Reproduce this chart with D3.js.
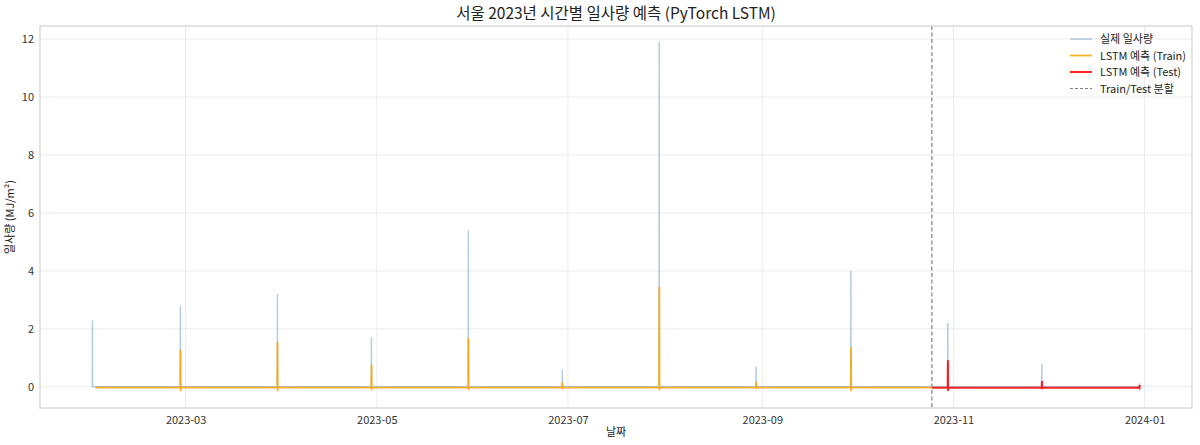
<!DOCTYPE html>
<html><head><meta charset="utf-8">
<script src="https://cdn.jsdelivr.net/npm/d3@7"></script>
<style>
body{margin:0;background:#fff;}
text{font-family:"Noto Sans CJK KR","Noto Sans",sans-serif;}
</style></head>
<body><svg id="c" width="1200" height="445"></svg>
<script>
// ---- data ----
const seriesStart = "2023-01-30T06:00";
const seriesEnd = "2023-12-30T10:00";
const trainStart = "2023-01-31T06:00";
const splitTime = "2023-10-25T03:00";
const spikeTimes = ["2023-01-30T07:00","2023-02-27T08:00","2023-03-30T07:00","2023-04-29T07:00","2023-05-30T05:00","2023-06-29T05:00","2023-07-30T03:00","2023-08-30T01:00","2023-09-29T07:00","2023-10-30T05:00","2023-11-29T05:00","2023-12-30T09:00"];
const actualPeaks = [2.3, 2.8, 3.2, 1.7, 5.4, 0.6, 11.9, 0.7, 4.0, 2.2, 0.8, 0.12];
const predPeaks = [null, 1.28, 1.55, 0.76, 1.68, 0.16, 3.45, 0.18, 1.37, 0.92, 0.2, 0.06];
const predDips = [null, -0.15, -0.15, -0.12, -0.12, -0.08, -0.12, -0.08, -0.15, -0.14, -0.08, -0.04];
const predBaseline = -0.03;
const yTicks = [0, 2, 4, 6, 8, 10, 12];
const xTickLabels = ["2023-03","2023-05","2023-07","2023-09","2023-11","2024-01"];
const legendLabels = ["실제 일사량","LSTM 예측 (Train)","LSTM 예측 (Test)","Train/Test 분할"];

// ---- build ----
const P = d3.utcParse("%Y-%m-%dT%H:%M");
const H = 3600e3;
const t0 = P(seriesStart), t1 = P(seriesEnd), tTrain = P(trainStart), tSplit = P(splitTime);
const spikes = spikeTimes.map(P);

const actual = [{t:t0,v:0}];
spikes.forEach((s,i)=>{ actual.push({t:new Date(+s-H),v:0},{t:s,v:actualPeaks[i]},{t:new Date(+s+H),v:0}); });
actual.push({t:t1,v:0});
actual.sort((a,b)=>a.t-b.t);

function predSeries(from,to){
  const arr=[{t:from,v:predBaseline}];
  spikes.forEach((s,i)=>{
    if(predPeaks[i]==null) return;
    if(s<from||s>to) return;
    arr.push({t:new Date(+s-H),v:predBaseline},{t:new Date(+s+H),v:predPeaks[i]},{t:new Date(+s+2*H),v:predDips[i]},{t:new Date(+s+3*H),v:predBaseline});
  });
  arr.push({t:to,v:predBaseline});
  return arr.sort((a,b)=>a.t-b.t);
}
const train = predSeries(tTrain,tSplit);
const test = predSeries(tSplit,t1);

const L=40,R=1192,T=26,B=408;
const span = t1-t0;
const x = d3.scaleUtc().domain([new Date(+t0-0.05*span), new Date(+t1+0.05*span)]).range([L,R]);
const y = d3.scaleLinear().domain([-0.73,12.45]).range([B,T]);

const svg = d3.select("#c");
const xTickDates = xTickLabels.map(d3.utcParse("%Y-%m"));

// grid
svg.append("g").selectAll("line").data(yTicks).join("line")
  .attr("x1",L).attr("x2",R).attr("y1",d=>y(d)).attr("y2",d=>y(d))
  .attr("stroke","#ebebeb").attr("stroke-width",1);
svg.append("g").selectAll("line").data(xTickDates).join("line")
  .attr("y1",T).attr("y2",B).attr("x1",d=>x(d)).attr("x2",d=>x(d))
  .attr("stroke","#ebebeb").attr("stroke-width",1);

// axes (labels only)
const xAxis = d3.axisBottom(x).tickValues(xTickDates).tickSize(0).tickPadding(8)
  .tickFormat((d,i)=>xTickLabels[i]);
const gx = svg.append("g").attr("transform",`translate(0,${B})`).call(xAxis);
gx.select(".domain").remove();
gx.selectAll("text").attr("font-size",11).attr("fill","#333").style("font-family",'"Noto Sans CJK KR",sans-serif');
const yAxis = d3.axisLeft(y).tickValues(yTicks).tickSize(0).tickPadding(6);
const gy = svg.append("g").attr("transform",`translate(${L},0)`).call(yAxis);
gy.select(".domain").remove();
gy.selectAll("text").attr("font-size",11).attr("fill","#333").style("font-family",'"Noto Sans CJK KR",sans-serif');

const line = d3.line().x(d=>x(d.t)).y(d=>y(d.v));
svg.append("path").datum(actual).attr("d",line).attr("fill","none")
  .attr("stroke","steelblue").attr("stroke-opacity",0.4).attr("stroke-width",1.5);
svg.append("path").datum(train).attr("d",line).attr("fill","none")
  .attr("stroke","orange").attr("stroke-opacity",0.85).attr("stroke-width",1.8);
svg.append("path").datum(test).attr("d",line).attr("fill","none")
  .attr("stroke","red").attr("stroke-opacity",0.85).attr("stroke-width",2);
svg.append("line").attr("x1",x(tSplit)).attr("x2",x(tSplit)).attr("y1",T).attr("y2",B)
  .attr("stroke","#808080").attr("stroke-width",1.2).attr("stroke-dasharray","4,2.5");

// frame
svg.append("rect").attr("x",L).attr("y",T).attr("width",R-L).attr("height",B-T)
  .attr("fill","none").attr("stroke","#d0d0d0").attr("stroke-width",1.2);

// title & labels
svg.append("text").attr("x",(L+R)/2).attr("y",19).attr("text-anchor","middle")
  .attr("font-size",15.5).attr("fill","#222").text("서울 2023년 시간별 일사량 예측 (PyTorch LSTM)");
svg.append("text").attr("x",(L+R)/2).attr("y",436).attr("text-anchor","middle")
  .attr("font-size",11).attr("fill","#222").text("날짜");
svg.append("text").attr("transform",`translate(14,${(T+B)/2}) rotate(-90)`).attr("text-anchor","middle")
  .attr("font-size",11).attr("fill","#222").text("일사량 (MJ/m²)");

// legend
const legStyles = [
  {c:"steelblue",o:0.4,w:1.5,dash:null},
  {c:"orange",o:0.85,w:1.8,dash:null},
  {c:"red",o:0.85,w:2,dash:null},
  {c:"#808080",o:1,w:1.2,dash:"3,2"}
];
const lg = svg.append("g");
legendLabels.forEach((lab,i)=>{
  const yy = 39 + i*16.5;
  const s = legStyles[i];
  lg.append("line").attr("x1",1070).attr("x2",1092).attr("y1",yy).attr("y2",yy)
    .attr("stroke",s.c).attr("stroke-opacity",s.o).attr("stroke-width",s.w)
    .attr("stroke-dasharray",s.dash);
  lg.append("text").attr("x",1100).attr("y",yy+4).attr("font-size",11).attr("fill","#222").text(lab);
});
</script></body></html>
